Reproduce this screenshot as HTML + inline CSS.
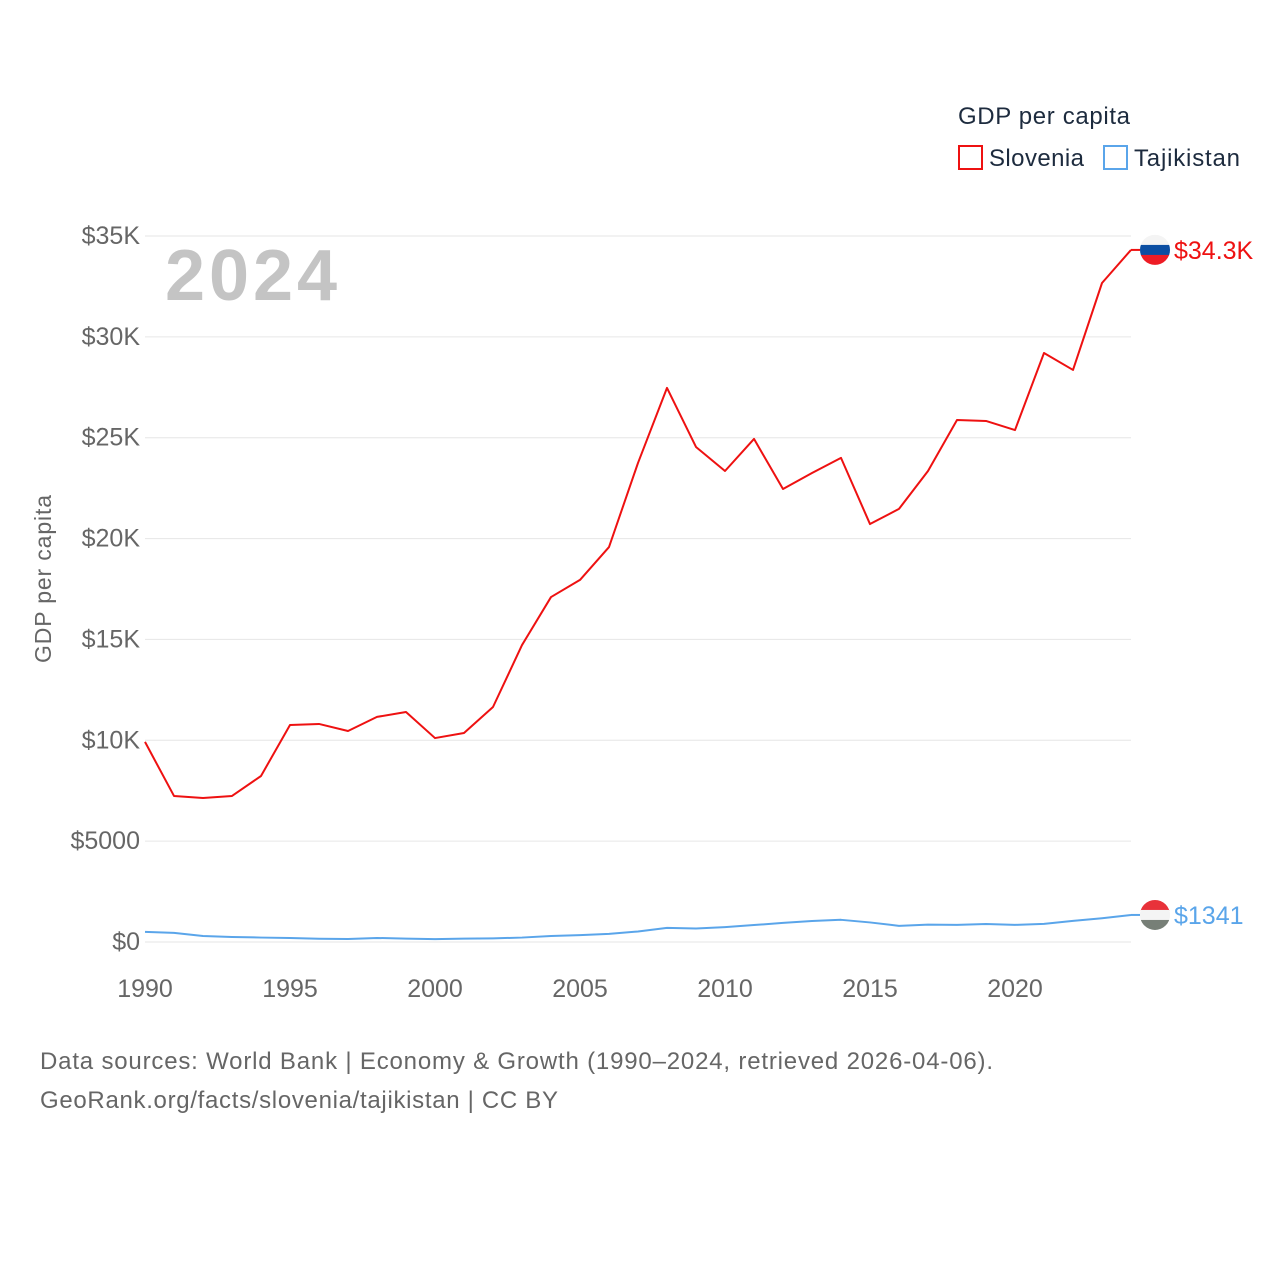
<!DOCTYPE html>
<html><head><meta charset="utf-8"><style>
body{margin:0;background:#fff;width:1280px;height:1280px;overflow:hidden;font-family:"Liberation Sans",sans-serif}
text{font-family:"Liberation Sans",sans-serif}
</style></head><body>
<svg id="chart" width="1280" height="1280">
<text x="958" y="124" font-size="24" fill="#1d2b3e" textLength="172">GDP per capita</text>
<g><rect x="959" y="146" width="23" height="23" fill="none" stroke="#ee1111" stroke-width="2"/><text x="989" y="166" font-size="24" fill="#1d2b3e" textLength="95">Slovenia</text></g>
<g><rect x="1104" y="146" width="23" height="23" fill="none" stroke="#5aa5ea" stroke-width="2"/><text x="1134" y="166" font-size="24" fill="#1d2b3e" textLength="106">Tajikistan</text></g>
<text x="165" y="300" font-size="72" font-weight="bold" fill="#c4c4c4" textLength="172">2024</text>
<text transform="translate(51,579) rotate(-90)" text-anchor="middle" font-size="23" fill="#666" textLength="168">GDP per capita</text>
<g id="grid"></g><g id="lines"></g>
<text x="40" y="1069" font-size="24" fill="#666" textLength="953">Data sources: World Bank | Economy &amp; Growth (1990–2024, retrieved 2026-04-06).</text>
<text x="40" y="1108" font-size="24" fill="#666" textLength="518">GeoRank.org/facts/slovenia/tajikistan | CC BY</text>
</svg>
<script>
const years=[1990,1991,1992,1993,1994,1995,1996,1997,1998,1999,2000,2001,2002,2003,2004,2005,2006,2007,2008,2009,2010,2011,2012,2013,2014,2015,2016,2017,2018,2019,2020,2021,2022,2023,2024];
const slovenia=[9920,7240,7140,7240,8230,10760,10810,10460,11160,11400,10110,10360,11650,14720,17100,17950,19580,23750,27470,24540,23350,24940,22460,23250,24000,20720,21470,23350,25880,25830,25380,29200,28360,32670,34310];
const tajikistan=[500,450,300,250,220,200,160,150,200,170,140,170,180,220,300,340,400,520,700,670,740,840,950,1040,1100,970,800,860,850,890,850,900,1050,1180,1341];
const yTicks=[0,5000,10000,15000,20000,25000,30000,35000];
const yLabels=["$0","$5000","$10K","$15K","$20K","$25K","$30K","$35K"];
const xTicks=[1990,1995,2000,2005,2010,2015,2020];
const NS="http://www.w3.org/2000/svg";
const x=v=>145+(v-1990)*(1131-145)/34;
const y=v=>942-v*(942-236)/35000;
const g=document.getElementById('grid'),L=document.getElementById('lines');
function mk(t,a,p){const e=document.createElementNS(NS,t);for(const k in a)e.setAttribute(k,a[k]);p.appendChild(e);return e;}
yTicks.forEach((t,i)=>{
 const ln=mk('line',{x1:145,x2:1131,y1:y(t),y2:y(t),stroke:'#e6e6e6','stroke-width':1},g);
 
 
 const tx=mk('text',{x:140,y:y(t)+8,'text-anchor':'end','font-size':25,fill:'#666'},g);tx.textContent=yLabels[i];
 
 
});
xTicks.forEach(t=>{
 const tx=mk('text',{x:x(t),y:997,'text-anchor':'middle','font-size':25,fill:'#666'},g);tx.textContent=t;
 
 
});
function line(vals,col,name){
 const p=mk('polyline',{points:vals.map((v,i)=>x(years[i])+','+y(v)).join(' '),fill:'none',stroke:col,'stroke-width':2,'stroke-linejoin':'round'},L);
 
 
}
line(tajikistan,'#5aa5ea','tajikistan-line');
line(slovenia,'#ee1111','slovenia-line');
function flag(v,cols,label,col,name){
 const cy=y(v),cx=1155,r=15;
 const grp=mk('g',{},L);
 
 
 const id='c'+name;const cp=mk('clipPath',{id:id},grp);mk('circle',{cx:cx,cy:cy,r:r},cp);
 mk('circle',{cx:cx,cy:cy,r:r,fill:'#f0f0f0'},grp);
 cols.forEach((c,i)=>mk('rect',{x:cx-r,y:cy-r+i*2*r/3,width:2*r,height:2*r/3+0.5,fill:c,'clip-path':'url(#'+id+')'},grp));
 mk('line',{x1:x(2024),x2:cx-r,y1:cy,y2:cy,stroke:col,'stroke-width':2},grp);
 const t=mk('text',{x:1174,y:cy+9,'font-size':25,fill:col},grp);t.textContent=label;
}
flag(slovenia[34],['#f4f4f4','#0b4ea2','#ee1c25'],'$34.3K','#ee1111','slovenia');
flag(tajikistan[34],['#e8323a','#f4f4f4','#777f77'],'$1341','#5aa5ea','tajikistan');
</script>
</body></html>
